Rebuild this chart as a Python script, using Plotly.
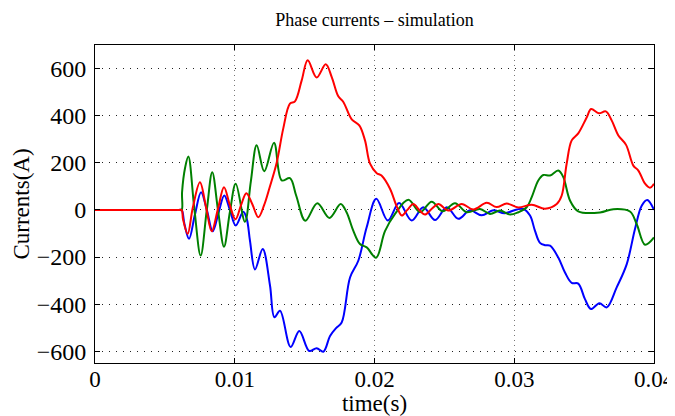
import numpy as np
import plotly.graph_objects as go

# time in milliseconds, current in amperes
t_a = [0, 6.0, 6.2, 6.3, 6.63, 7.0, 7.51, 7.95, 8.35, 8.8, 9.23, 9.65, 10.05, 10.45, 10.83, 11.25, 11.69,
       12.1, 12.5, 13.0, 13.47, 13.95, 14.31, 14.79, 15.22, 15.86, 16.51, 16.94, 17.41, 17.77, 18.37,
       18.91, 19.32, 19.68, 20.16, 20.5, 21.11, 21.59, 21.95, 22.35, 22.78, 23.2, 23.61, 24.1, 24.57,
       25.28, 26.24, 27.07, 28.03, 28.74, 29.46, 30.29, 31.25, 32.2, 33.04, 33.39, 33.75, 34.11, 34.58,
       35.18, 35.5, 36.05, 36.55, 36.97, 37.45, 38.0, 38.52, 38.88, 39.36, 39.71, 40.0]
i_a = [0, 0, 0, -40, -102, 10, 117, 10, -91, 5, 96, 20, -40, 20, 71, 25, -31,
       20, 96, 200, 345, 451, 461, 550, 635, 562, 618, 564, 482, 458, 384,
       359, 295, 196, 156, 146, 90, 15, -24, 0, 25, 0, -20, 5, 25,
       -3, 25, 2, 30, 12, 27, 10, 22, 5, 25, 60, 196, 295, 325,
       392, 428, 410, 418, 380, 316, 276, 188, 167, 111, 94, 111]

t_b = [0, 6.0, 6.2, 6.23, 6.45, 6.68, 7.1, 7.56, 8.0, 8.39, 8.8, 9.23, 9.65, 10.07, 10.73, 11.15, 11.57,
       12.11, 12.81, 13.36, 13.95, 14.4, 15.05, 15.91, 16.77, 17.58, 18.0, 18.48, 18.96, 19.44, 20.11,
       20.75, 21.47, 22.42, 23.26, 24.09, 24.88, 25.76, 26.6, 27.55, 28.26, 28.98, 29.7, 30.29, 30.89,
       31.25, 31.72, 32.08, 32.56, 33.15, 33.51, 33.99, 34.58, 36.14, 37.09, 38.28, 38.76, 39.36, 40.0]
i_b = [0, 0, 0, 75, 180, 227, 10, -194, 0, 160, 0, -156, -10, 111, -50, 120, 274,
       164, 285, 125, 135, 60, -46, 28, -34, 25, -10, -88, -145, -159, -203,
       -90, -17, 43, -10, 35, -6, 28, -10, 4, -17, -3, -20, -10, 11,
       54, 125, 148, 146, 167, 139, 40, -6, -11, 3, -7, -60, -148, -117]

t_c = [0, 6.0, 6.2, 6.4, 6.73, 7.15, 7.59, 8.0, 8.42, 8.85, 9.25, 9.65, 10.07, 10.61, 10.86, 11.09, 11.45,
       12.0, 12.52, 12.84, 13.24, 14.0, 14.62, 15.33, 15.86, 16.34, 16.82, 17.25, 17.65, 18.25, 18.84,
       19.44, 20.13, 20.95, 21.76, 22.66, 23.49, 24.33, 25.17, 26.0, 26.83, 27.67, 28.5, 29.3, 30.2,
       30.65, 31.13, 31.48, 31.84, 32.2, 32.56, 33.15, 33.63, 34.11, 34.58, 35.06, 35.49, 36.09, 36.62,
       37.33, 38.05, 38.64, 39.12, 39.52, 40.0]
i_c = [0, 0, 0, -60, -123, -20, 75, 0, -91, -10, 61, 0, -66, -8, -38, -131, -253,
       -166, -320, -456, -428, -582, -514, -599, -587, -602, -535, -502, -478, -287, -216,
       -74, 47, -45, 29, -45, 11, -43, 11, -38, -2, -23, -2, -14, 2,
       4, -24, -88, -140, -150, -152, -202, -266, -310, -313, -379, -421, -396, -414,
       -329, -230, -81, 18, 42, 0]

x_ticks = [0, 0.01, 0.02, 0.03, 0.04]
x_tick_labels = ["0", "0.01", "0.02", "0.03", "0.04"]
y_ticks = [-600, -400, -200, 0, 200, 400, 600]
y_tick_labels = ["\u2212600", "\u2212400", "\u2212200", "0", "200", "400", "600"]

fig = go.Figure()
for t, i, col in [(t_c, i_c, "#0000ff"), (t_b, i_b, "#008000"), (t_a, i_a, "#ff0000")]:
    fig.add_trace(go.Scatter(x=np.array(t) / 1000.0, y=i, mode="lines",
                             line=dict(color=col, width=2, shape="spline", smoothing=1.0),
                             showlegend=False, hoverinfo="skip"))

font = "Liberation Serif, Times New Roman, serif"
axis_common = dict(showline=True, linecolor="black", linewidth=1, mirror="ticks",
                   ticks="inside", ticklen=5, tickcolor="black", tickwidth=1,
                   showgrid=True, gridwidth=1, zeroline=False, automargin=False,
                   ticklabeloverflow="allow")
fig.update_xaxes(range=[0, 0.04], tickvals=x_ticks, ticktext=x_tick_labels,
                 griddash="1px,4px", gridcolor="#777777", ticklabelstandoff=-5,
                 tickfont=dict(family=font, size=23, color="black"),
                 title=dict(text="time(s)", font=dict(family=font, size=23, color="black"), standoff=0),
                 **axis_common)
fig.update_yaxes(range=[-650, 700], tickvals=y_ticks, ticktext=y_tick_labels,
                 griddash="1px,6px", gridcolor="#222222", ticklabelstandoff=3,
                 tickfont=dict(family=font, size=24, color="black"),
                 title=dict(text="Currents(A)", font=dict(family=font, size=23, color="black"), standoff=0),
                 **axis_common)
fig.update_layout(
    width=667, height=408,
    margin=dict(l=87, r=21, t=37, b=53, autoexpand=False),
    paper_bgcolor="white", plot_bgcolor="white",
    title=dict(text="Phase currents \u2013 simulation", x=0.5, xref="paper", xanchor="center",
               y=1, yref="paper", yanchor="bottom", pad=dict(b=19), automargin=False,
               font=dict(family=font, size=18, color="black")),
)
fig.write_html("out.html")
